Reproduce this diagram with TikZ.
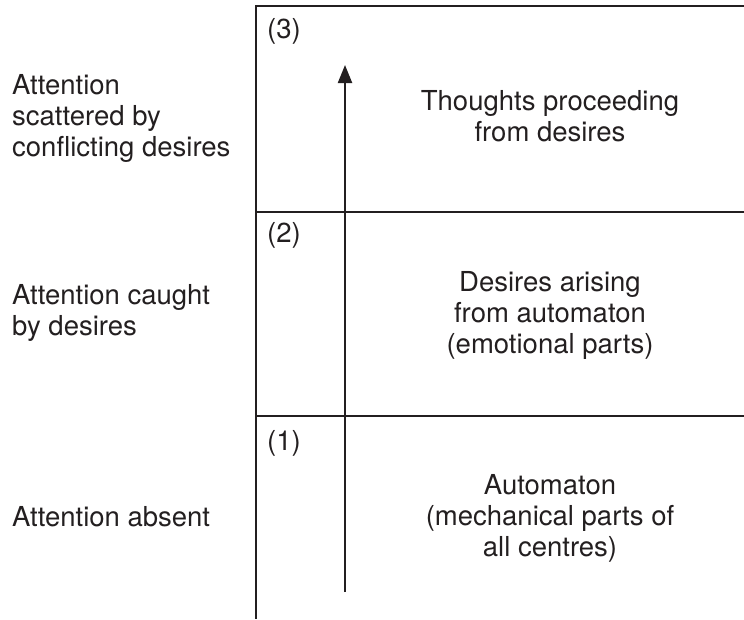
\documentclass[tikz,border=0pt]{standalone}
\usepackage{fontspec}
\setmainfont{TeX Gyre Heros}
\usetikzlibrary{positioning, arrows.meta}
\definecolor{ink}{HTML}{231F20}
\tikzset{
        every node/.style={inner sep=0pt, text=ink, font=\fontsize{27.5}{31}\selectfont},
        rule/.style={draw=ink, line width=2.2pt, line join=miter},
        side/.style={anchor=west, align=left},   % attention labels on the left
        level/.style={anchor=west},              % (1) (2) (3)
        inner/.style={align=center},
        }

\begin{document}
\begin{tikzpicture}[x=1pt, y=-1pt]
  \useasboundingbox (0,0) rectangle (744,619);
  % frame and bands
  \draw[rule] (744,6) -- (256,6) -- (256,619);
  \draw[rule] (256,212) -- (744,212);
  \draw[rule] (256,416) -- (744,416);

  \node[level] (n3) at (267,31) {(3)};
  \node[level] (n2) at (267,235) {(2)};
  \node[level] (n1) at (267,443) {(1)};

  \node[inner] (thoughts) at (550,116) {Thoughts proceeding\\from desires};
  \node[inner] (desires) at (550,315) {Desires arising\\from automaton\\(emotional parts)};
  \node[inner] (automaton) at (550,518) {Automaton\\(mechanical parts of\\all centres)};

  \node[side] (scattered) at (12,118) {Attention\\scattered by\\conflicting desires};
  \node[side] (caught) at (12,313) {Attention caught\\by desires};
  \node[side] (absent) at (12,517) {Attention absent};

  % rising arrow
  \coordinate (foot) at (345,592);
  \coordinate (head) at (345,65);
  \draw[rule, -{Triangle[length=18pt, width=14pt]}] (foot) -- (head);
\end{tikzpicture}
\end{document}
